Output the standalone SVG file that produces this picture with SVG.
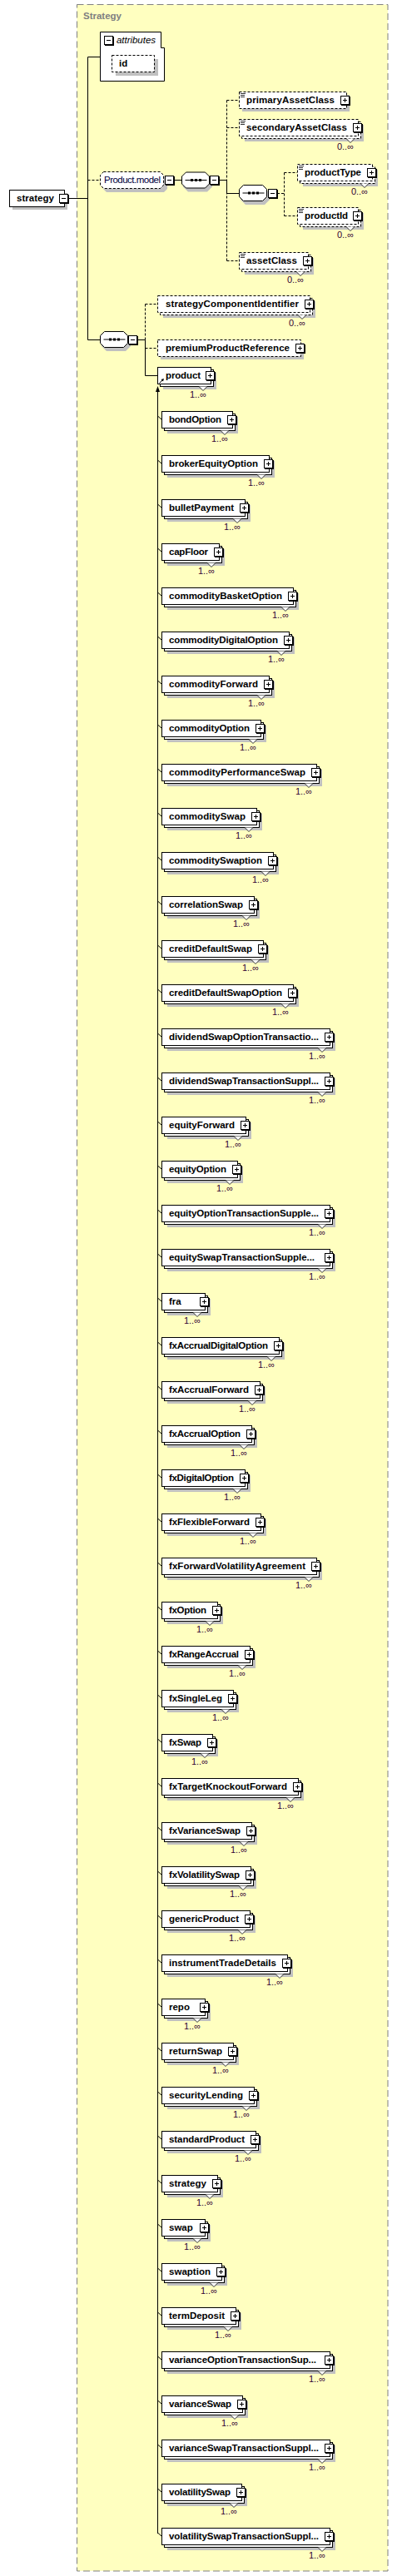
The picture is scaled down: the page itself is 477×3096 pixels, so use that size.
<svg xmlns="http://www.w3.org/2000/svg" xmlns:xlink="http://www.w3.org/1999/xlink" width="477" height="3096" viewBox="0 0 477 3096">
<defs>
<style>
.bx{fill:#fff;stroke:#000;stroke-width:1}
.bd{fill:#fff;stroke:#000;stroke-width:1;stroke-dasharray:3,2}
.sh{fill:#c0c0c0}
.t{font-family:"Liberation Sans",Arial,sans-serif;font-size:11.5px;font-weight:bold;fill:#000}
.m{font-family:"Liberation Sans",Arial,sans-serif;font-size:11px;fill:#330033;text-anchor:end}
.v{fill:#fff;stroke:#000;stroke-width:0.8}
.ln{stroke:#000;stroke-width:1;fill:none}
.dl{stroke:#000;stroke-width:1;fill:none;stroke-dasharray:3,2}
</style>
<g id="plus"><rect x="1" y="1" width="11" height="11" fill="#000"/><rect x="0.5" y="0.5" width="10" height="10" fill="#fff" stroke="#000"/><path d="M3 5.5h5M5.5 3v5" stroke="#000" fill="none"/></g>
<g id="minus"><rect x="1" y="1" width="11" height="11" fill="#000"/><rect x="0.5" y="0.5" width="10" height="10" fill="#fff" stroke="#000"/><path d="M3 5.5h5" stroke="#000" fill="none"/></g>
<g id="eq"><path d="M0 0.5h6M0 2.5h5M0 4.5h5" stroke="#000" stroke-width="0.8" fill="none"/></g>
<g id="seq"><path d="M8 4H31L37 10V18L31 24H8L2 18V10Z" fill="#c0c0c0"/><path d="M5.5 0.5H28.5L33.5 5.5V14.5L28.5 19.5H5.5L0.5 14.5V5.5Z" fill="#fff" stroke="#000"/><path d="M4.5 10H30.5" stroke="#000" fill="none"/><rect x="11" y="8.5" width="3" height="3"/><rect x="16" y="8.5" width="3" height="3"/><rect x="21" y="8.5" width="3" height="3"/></g>
</defs>

<rect x="92.5" y="5.5" width="373.5" height="3084.5" fill="#ffffc0" stroke="#808080" stroke-dasharray="8,4"/>
<text x="100" y="23" style="font-family:'Liberation Sans',Arial,sans-serif;font-size:11.5px;font-weight:bold;fill:#808080">Strategy</text>

<g id="connectors">
<path class="ln" d="M82 238.5H105.5M105.5 68.5V408.5M105.5 68.5H120.5M105.5 408.5H120M209 216.5H218M264 216.5H272.5M272.5 216.5V232.5H287M166 408.5H174.5V451.5H189"/>
<path class="dl" d="M105.5 216.5H120M272.5 120.5V313.5M272.5 120.5H287M272.5 153.5H287M272.5 313.5H287M333 232.5H341.5M341.5 207.5V259.5M341.5 207.5H357M341.5 259.5H357M174.5 365.5V408.5M174.5 365.5H189M174.5 418.5H189"/>
<path class="ln" d="M189.5 469V3045"/>
<path d="M189.5 464L187 471H192Z" fill="#000"/>
<path class="ln" d="M189.5 500l4.5 4M189.5 553l4.5 4M189.5 606l4.5 4M189.5 659l4.5 4M189.5 712l4.5 4M189.5 765l4.5 4M189.5 818l4.5 4M189.5 871l4.5 4M189.5 924l4.5 4M189.5 977l4.5 4M189.5 1030l4.5 4M189.5 1083l4.5 4M189.5 1136l4.5 4M189.5 1189l4.5 4M189.5 1242l4.5 4M189.5 1295l4.5 4M189.5 1348l4.5 4M189.5 1401l4.5 4M189.5 1454l4.5 4M189.5 1507l4.5 4M189.5 1560l4.5 4M189.5 1613l4.5 4M189.5 1666l4.5 4M189.5 1719l4.5 4M189.5 1772l4.5 4M189.5 1825l4.5 4M189.5 1878l4.5 4M189.5 1931l4.5 4M189.5 1984l4.5 4M189.5 2037l4.5 4M189.5 2090l4.5 4M189.5 2143l4.5 4M189.5 2196l4.5 4M189.5 2249l4.5 4M189.5 2302l4.5 4M189.5 2355l4.5 4M189.5 2408l4.5 4M189.5 2461l4.5 4M189.5 2514l4.5 4M189.5 2567l4.5 4M189.5 2620l4.5 4M189.5 2673l4.5 4M189.5 2726l4.5 4M189.5 2779l4.5 4M189.5 2832l4.5 4M189.5 2885l4.5 4M189.5 2938l4.5 4M189.5 2991l4.5 4M189.5 3044l4.5 4"/>
</g>

<g id="n-strategy">
<rect class="sh" x="15" y="232" width="66" height="20"/>
<rect class="bx" x="11.5" y="228.5" width="66" height="20"/>
<text class="t" x="20" y="242" textLength="45">strategy</text>
<use href="#minus" x="71" y="233"/>
</g>

<g id="n-attributes">
<path class="bx" d="M120.5 38.5H193.5V57.5H197.5V97.5H120.5Z"/>
<use href="#minus" x="125" y="43"/>
<text x="140" y="52" textLength="47" style="font-family:'Liberation Sans',Arial,sans-serif;font-size:11.5px;font-style:italic;fill:#000">attributes</text>
</g>
<g id="n-id">
<rect class="sh" x="139" y="71" width="51" height="20"/>
<rect class="bd" x="134.5" y="66.5" width="51" height="20"/>
<text class="t" x="143" y="80">id</text>
</g>

<g id="n-productmodel">
<path d="M128 211H197L201 215V227L197 231H128L124 227V215Z" fill="#c0c0c0"/>
<path d="M124.5 206.5H192.5L196.5 210.5V222.5L192.5 226.5H124.5L120.5 222.5V210.5Z" fill="#fff" stroke="#000" stroke-dasharray="3,2"/>
<text x="125" y="220" textLength="68" style="font-family:'Liberation Sans',Arial,sans-serif;font-size:11.5px;fill:#000040">Product.model</text>
<use href="#minus" x="198" y="211"/>
</g>

<g id="n-seq1"><use href="#seq" x="218" y="206.5"/><use href="#minus" x="252" y="211"/></g>
<g id="n-seq2"><use href="#seq" x="287" y="222"/><use href="#minus" x="322" y="227"/></g>
<g id="n-seq3"><use href="#seq" x="120" y="398"/><use href="#minus" x="154" y="403"/></g>

<g id="n-primaryAssetClass">
<rect class="sh" x="291" y="114" width="129" height="20"/>
<rect class="bd" x="287.5" y="110.5" width="129" height="20"/>
<use href="#eq" x="289" y="112"/>
<text class="t" x="296" y="124" textLength="106">primaryAssetClass</text>
<use href="#plus" x="409" y="115"/>
</g>
<g id="n-secondaryAssetClass" transform="translate(0,143)">
<rect class="sh" x="294" y="7" width="143" height="20"/>
<rect class="bd" x="290.5" y="3.5" width="143" height="20"/>
<rect class="bd" x="287.5" y="0.5" width="143" height="20"/>
<use href="#eq" x="289" y="2"/>
<path class="v" d="M416 23.5l5 5l5-5"/>
<text class="t" x="296" y="14" textLength="121">secondaryAssetClass</text>
<use href="#plus" x="424" y="5"/>
<text class="m" x="425" y="37">0..∞</text>
</g>
<g id="n-productType" transform="translate(0,197)">
<rect class="sh" x="364" y="7" width="90" height="20"/>
<rect class="bd" x="360.5" y="3.5" width="90" height="20"/>
<rect class="bd" x="357.5" y="0.5" width="90" height="20"/>
<use href="#eq" x="359" y="2"/>
<path class="v" d="M433 23.5l5 5l5-5"/>
<text class="t" x="366" y="14" textLength="68">productType</text>
<use href="#plus" x="441" y="5"/>
<text class="m" x="442" y="37">0..∞</text>
</g>
<g id="n-productId" transform="translate(0,249)">
<rect class="sh" x="364" y="7" width="73" height="20"/>
<rect class="bd" x="360.5" y="3.5" width="73" height="20"/>
<rect class="bd" x="357.5" y="0.5" width="73" height="20"/>
<use href="#eq" x="359" y="2"/>
<path class="v" d="M416 23.5l5 5l5-5"/>
<text class="t" x="366" y="14" textLength="52">productId</text>
<use href="#plus" x="424" y="5"/>
<text class="m" x="425" y="37">0..∞</text>
</g>
<g id="n-assetClass" transform="translate(0,303)">
<rect class="sh" x="294" y="7" width="83" height="20"/>
<rect class="bd" x="290.5" y="3.5" width="83" height="20"/>
<rect class="bd" x="287.5" y="0.5" width="83" height="20"/>
<use href="#eq" x="289" y="2"/>
<path class="v" d="M356 23.5l5 5l5-5"/>
<text class="t" x="296" y="14" textLength="61">assetClass</text>
<use href="#plus" x="364" y="5"/>
<text class="m" x="365" y="37">0..∞</text>
</g>
<g id="n-strategyComponentIdentifier" transform="translate(0,355)">
<rect class="sh" x="196" y="7" width="183" height="20"/>
<rect class="bd" x="192.5" y="3.5" width="183" height="20"/>
<rect class="bd" x="189.5" y="0.5" width="183" height="20"/>
<path class="v" d="M358 23.5l5 5l5-5"/>
<text class="t" x="199" y="14" textLength="160">strategyComponentIdentifier</text>
<use href="#plus" x="366" y="5"/>
<text class="m" x="367" y="37">0..∞</text>
</g>
<g id="n-premiumProductReference" transform="translate(0,408)">
<rect class="sh" x="193" y="4" width="172" height="20"/>
<rect class="bd" x="189.5" y="0.5" width="172" height="20"/>
<text class="t" x="199" y="14" textLength="149">premiumProductReference</text>
<use href="#plus" x="355" y="5"/>
</g>
<g id="n-product" transform="translate(0,441)">
<rect class="sh" x="196" y="7" width="64" height="20"/>
<rect class="bx" x="192.5" y="3.5" width="64" height="20"/>
<rect class="bx" x="189.5" y="0.5" width="64" height="20"/>
<path class="v" d="M239 23.5l5 5l5-5"/>
<text class="t" x="199" y="14" textLength="42">product</text>
<use href="#plus" x="247" y="5"/>
<path d="M191.5 19.5L195.5 15.5" stroke="#000" fill="none"/><path d="M197 14L193.5 15L196 17.5Z" fill="#000"/>
<text class="m" x="248" y="37">1..∞</text>
</g>

<g id="n-bondOption" transform="translate(0,494)"><rect class="sh" x="201" y="7" width="85" height="20"/><rect class="bx" x="197.5" y="3.5" width="85" height="20"/><rect class="bx" x="194.5" y="0.5" width="85" height="20"/><path class="v" d="M265 23.5l5 5l5-5"/><text class="t" x="203" y="14" textLength="63">bondOption</text><use href="#plus" x="273" y="5"/><text class="m" x="274" y="37">1..∞</text></g>
<g id="n-brokerEquityOption" transform="translate(0,547)"><rect class="sh" x="201" y="7" width="129" height="20"/><rect class="bx" x="197.5" y="3.5" width="129" height="20"/><rect class="bx" x="194.5" y="0.5" width="129" height="20"/><path class="v" d="M309 23.5l5 5l5-5"/><text class="t" x="203" y="14" textLength="107">brokerEquityOption</text><use href="#plus" x="317" y="5"/><text class="m" x="318" y="37">1..∞</text></g>
<g id="n-bulletPayment" transform="translate(0,600)"><rect class="sh" x="201" y="7" width="100" height="20"/><rect class="bx" x="197.5" y="3.5" width="100" height="20"/><rect class="bx" x="194.5" y="0.5" width="100" height="20"/><path class="v" d="M280 23.5l5 5l5-5"/><text class="t" x="203" y="14" textLength="78">bulletPayment</text><use href="#plus" x="288" y="5"/><text class="m" x="289" y="37">1..∞</text></g>
<g id="n-capFloor" transform="translate(0,653)"><rect class="sh" x="201" y="7" width="69" height="20"/><rect class="bx" x="197.5" y="3.5" width="69" height="20"/><rect class="bx" x="194.5" y="0.5" width="69" height="20"/><path class="v" d="M249 23.5l5 5l5-5"/><text class="t" x="203" y="14" textLength="47">capFloor</text><use href="#plus" x="257" y="5"/><text class="m" x="258" y="37">1..∞</text></g>
<g id="n-commodityBasketOption" transform="translate(0,706)"><rect class="sh" x="201" y="7" width="158" height="20"/><rect class="bx" x="197.5" y="3.5" width="158" height="20"/><rect class="bx" x="194.5" y="0.5" width="158" height="20"/><path class="v" d="M338 23.5l5 5l5-5"/><text class="t" x="203" y="14" textLength="136">commodityBasketOption</text><use href="#plus" x="346" y="5"/><text class="m" x="347" y="37">1..∞</text></g>
<g id="n-commodityDigitalOption" transform="translate(0,759)"><rect class="sh" x="201" y="7" width="153" height="20"/><rect class="bx" x="197.5" y="3.5" width="153" height="20"/><rect class="bx" x="194.5" y="0.5" width="153" height="20"/><path class="v" d="M333 23.5l5 5l5-5"/><text class="t" x="203" y="14" textLength="131">commodityDigitalOption</text><use href="#plus" x="341" y="5"/><text class="m" x="342" y="37">1..∞</text></g>
<g id="n-commodityForward" transform="translate(0,812)"><rect class="sh" x="201" y="7" width="129" height="20"/><rect class="bx" x="197.5" y="3.5" width="129" height="20"/><rect class="bx" x="194.5" y="0.5" width="129" height="20"/><path class="v" d="M309 23.5l5 5l5-5"/><text class="t" x="203" y="14" textLength="107">commodityForward</text><use href="#plus" x="317" y="5"/><text class="m" x="318" y="37">1..∞</text></g>
<g id="n-commodityOption" transform="translate(0,865)"><rect class="sh" x="201" y="7" width="119" height="20"/><rect class="bx" x="197.5" y="3.5" width="119" height="20"/><rect class="bx" x="194.5" y="0.5" width="119" height="20"/><path class="v" d="M299 23.5l5 5l5-5"/><text class="t" x="203" y="14" textLength="97">commodityOption</text><use href="#plus" x="307" y="5"/><text class="m" x="308" y="37">1..∞</text></g>
<g id="n-commodityPerformanceSwap" transform="translate(0,918)"><rect class="sh" x="201" y="7" width="186" height="20"/><rect class="bx" x="197.5" y="3.5" width="186" height="20"/><rect class="bx" x="194.5" y="0.5" width="186" height="20"/><path class="v" d="M366 23.5l5 5l5-5"/><text class="t" x="203" y="14" textLength="164">commodityPerformanceSwap</text><use href="#plus" x="374" y="5"/><text class="m" x="375" y="37">1..∞</text></g>
<g id="n-commoditySwap" transform="translate(0,971)"><rect class="sh" x="201" y="7" width="114" height="20"/><rect class="bx" x="197.5" y="3.5" width="114" height="20"/><rect class="bx" x="194.5" y="0.5" width="114" height="20"/><path class="v" d="M294 23.5l5 5l5-5"/><text class="t" x="203" y="14" textLength="92">commoditySwap</text><use href="#plus" x="302" y="5"/><text class="m" x="303" y="37">1..∞</text></g>
<g id="n-commoditySwaption" transform="translate(0,1024)"><rect class="sh" x="201" y="7" width="134" height="20"/><rect class="bx" x="197.5" y="3.5" width="134" height="20"/><rect class="bx" x="194.5" y="0.5" width="134" height="20"/><path class="v" d="M314 23.5l5 5l5-5"/><text class="t" x="203" y="14" textLength="112">commoditySwaption</text><use href="#plus" x="322" y="5"/><text class="m" x="323" y="37">1..∞</text></g>
<g id="n-correlationSwap" transform="translate(0,1077)"><rect class="sh" x="201" y="7" width="111" height="20"/><rect class="bx" x="197.5" y="3.5" width="111" height="20"/><rect class="bx" x="194.5" y="0.5" width="111" height="20"/><path class="v" d="M291 23.5l5 5l5-5"/><text class="t" x="203" y="14" textLength="89">correlationSwap</text><use href="#plus" x="299" y="5"/><text class="m" x="300" y="37">1..∞</text></g>
<g id="n-creditDefaultSwap" transform="translate(0,1130)"><rect class="sh" x="201" y="7" width="122" height="20"/><rect class="bx" x="197.5" y="3.5" width="122" height="20"/><rect class="bx" x="194.5" y="0.5" width="122" height="20"/><path class="v" d="M302 23.5l5 5l5-5"/><text class="t" x="203" y="14" textLength="100">creditDefaultSwap</text><use href="#plus" x="310" y="5"/><text class="m" x="311" y="37">1..∞</text></g>
<g id="n-creditDefaultSwapOption" transform="translate(0,1183)"><rect class="sh" x="201" y="7" width="158" height="20"/><rect class="bx" x="197.5" y="3.5" width="158" height="20"/><rect class="bx" x="194.5" y="0.5" width="158" height="20"/><path class="v" d="M338 23.5l5 5l5-5"/><text class="t" x="203" y="14" textLength="136">creditDefaultSwapOption</text><use href="#plus" x="346" y="5"/><text class="m" x="347" y="37">1..∞</text></g>
<g id="n-dividendSwapOptionTransactio" transform="translate(0,1236)"><rect class="sh" x="201" y="7" width="202" height="20"/><rect class="bx" x="197.5" y="3.5" width="202" height="20"/><rect class="bx" x="194.5" y="0.5" width="202" height="20"/><path class="v" d="M382 23.5l5 5l5-5"/><text class="t" x="203" y="14" textLength="180">dividendSwapOptionTransactio...</text><use href="#plus" x="390" y="5"/><text class="m" x="391" y="37">1..∞</text></g>
<g id="n-dividendSwapTransactionSuppl" transform="translate(0,1289)"><rect class="sh" x="201" y="7" width="202" height="20"/><rect class="bx" x="197.5" y="3.5" width="202" height="20"/><rect class="bx" x="194.5" y="0.5" width="202" height="20"/><path class="v" d="M382 23.5l5 5l5-5"/><text class="t" x="203" y="14" textLength="180">dividendSwapTransactionSuppl...</text><use href="#plus" x="390" y="5"/><text class="m" x="391" y="37">1..∞</text></g>
<g id="n-equityForward" transform="translate(0,1342)"><rect class="sh" x="201" y="7" width="101" height="20"/><rect class="bx" x="197.5" y="3.5" width="101" height="20"/><rect class="bx" x="194.5" y="0.5" width="101" height="20"/><path class="v" d="M281 23.5l5 5l5-5"/><text class="t" x="203" y="14" textLength="79">equityForward</text><use href="#plus" x="289" y="5"/><text class="m" x="290" y="37">1..∞</text></g>
<g id="n-equityOption" transform="translate(0,1395)"><rect class="sh" x="201" y="7" width="91" height="20"/><rect class="bx" x="197.5" y="3.5" width="91" height="20"/><rect class="bx" x="194.5" y="0.5" width="91" height="20"/><path class="v" d="M271 23.5l5 5l5-5"/><text class="t" x="203" y="14" textLength="69">equityOption</text><use href="#plus" x="279" y="5"/><text class="m" x="280" y="37">1..∞</text></g>
<g id="n-equityOptionTransactionSupple" transform="translate(0,1448)"><rect class="sh" x="201" y="7" width="202" height="20"/><rect class="bx" x="197.5" y="3.5" width="202" height="20"/><rect class="bx" x="194.5" y="0.5" width="202" height="20"/><path class="v" d="M382 23.5l5 5l5-5"/><text class="t" x="203" y="14" textLength="180">equityOptionTransactionSupple...</text><use href="#plus" x="390" y="5"/><text class="m" x="391" y="37">1..∞</text></g>
<g id="n-equitySwapTransactionSupple" transform="translate(0,1501)"><rect class="sh" x="201" y="7" width="202" height="20"/><rect class="bx" x="197.5" y="3.5" width="202" height="20"/><rect class="bx" x="194.5" y="0.5" width="202" height="20"/><path class="v" d="M382 23.5l5 5l5-5"/><text class="t" x="203" y="14" textLength="175">equitySwapTransactionSupple...</text><use href="#plus" x="390" y="5"/><text class="m" x="391" y="37">1..∞</text></g>
<g id="n-fra" transform="translate(0,1554)"><rect class="sh" x="201" y="7" width="52" height="20"/><rect class="bx" x="197.5" y="3.5" width="52" height="20"/><rect class="bx" x="194.5" y="0.5" width="52" height="20"/><path class="v" d="M232 23.5l5 5l5-5"/><text class="t" x="203" y="14">fra</text><use href="#plus" x="240" y="5"/><text class="m" x="241" y="37">1..∞</text></g>
<g id="n-fxAccrualDigitalOption" transform="translate(0,1607)"><rect class="sh" x="201" y="7" width="141" height="20"/><rect class="bx" x="197.5" y="3.5" width="141" height="20"/><rect class="bx" x="194.5" y="0.5" width="141" height="20"/><path class="v" d="M321 23.5l5 5l5-5"/><text class="t" x="203" y="14" textLength="119">fxAccrualDigitalOption</text><use href="#plus" x="329" y="5"/><text class="m" x="330" y="37">1..∞</text></g>
<g id="n-fxAccrualForward" transform="translate(0,1660)"><rect class="sh" x="201" y="7" width="118" height="20"/><rect class="bx" x="197.5" y="3.5" width="118" height="20"/><rect class="bx" x="194.5" y="0.5" width="118" height="20"/><path class="v" d="M298 23.5l5 5l5-5"/><text class="t" x="203" y="14" textLength="96">fxAccrualForward</text><use href="#plus" x="306" y="5"/><text class="m" x="307" y="37">1..∞</text></g>
<g id="n-fxAccrualOption" transform="translate(0,1713)"><rect class="sh" x="201" y="7" width="108" height="20"/><rect class="bx" x="197.5" y="3.5" width="108" height="20"/><rect class="bx" x="194.5" y="0.5" width="108" height="20"/><path class="v" d="M288 23.5l5 5l5-5"/><text class="t" x="203" y="14" textLength="86">fxAccrualOption</text><use href="#plus" x="296" y="5"/><text class="m" x="297" y="37">1..∞</text></g>
<g id="n-fxDigitalOption" transform="translate(0,1766)"><rect class="sh" x="201" y="7" width="100" height="20"/><rect class="bx" x="197.5" y="3.5" width="100" height="20"/><rect class="bx" x="194.5" y="0.5" width="100" height="20"/><path class="v" d="M280 23.5l5 5l5-5"/><text class="t" x="203" y="14" textLength="78">fxDigitalOption</text><use href="#plus" x="288" y="5"/><text class="m" x="289" y="37">1..∞</text></g>
<g id="n-fxFlexibleForward" transform="translate(0,1819)"><rect class="sh" x="201" y="7" width="119" height="20"/><rect class="bx" x="197.5" y="3.5" width="119" height="20"/><rect class="bx" x="194.5" y="0.5" width="119" height="20"/><path class="v" d="M299 23.5l5 5l5-5"/><text class="t" x="203" y="14" textLength="97">fxFlexibleForward</text><use href="#plus" x="307" y="5"/><text class="m" x="308" y="37">1..∞</text></g>
<g id="n-fxForwardVolatilityAgreement" transform="translate(0,1872)"><rect class="sh" x="201" y="7" width="186" height="20"/><rect class="bx" x="197.5" y="3.5" width="186" height="20"/><rect class="bx" x="194.5" y="0.5" width="186" height="20"/><path class="v" d="M366 23.5l5 5l5-5"/><text class="t" x="203" y="14" textLength="164">fxForwardVolatilityAgreement</text><use href="#plus" x="374" y="5"/><text class="m" x="375" y="37">1..∞</text></g>
<g id="n-fxOption" transform="translate(0,1925)"><rect class="sh" x="201" y="7" width="67" height="20"/><rect class="bx" x="197.5" y="3.5" width="67" height="20"/><rect class="bx" x="194.5" y="0.5" width="67" height="20"/><path class="v" d="M247 23.5l5 5l5-5"/><text class="t" x="203" y="14" textLength="45">fxOption</text><use href="#plus" x="255" y="5"/><text class="m" x="256" y="37">1..∞</text></g>
<g id="n-fxRangeAccrual" transform="translate(0,1978)"><rect class="sh" x="201" y="7" width="106" height="20"/><rect class="bx" x="197.5" y="3.5" width="106" height="20"/><rect class="bx" x="194.5" y="0.5" width="106" height="20"/><path class="v" d="M286 23.5l5 5l5-5"/><text class="t" x="203" y="14" textLength="84">fxRangeAccrual</text><use href="#plus" x="294" y="5"/><text class="m" x="295" y="37">1..∞</text></g>
<g id="n-fxSingleLeg" transform="translate(0,2031)"><rect class="sh" x="201" y="7" width="86" height="20"/><rect class="bx" x="197.5" y="3.5" width="86" height="20"/><rect class="bx" x="194.5" y="0.5" width="86" height="20"/><path class="v" d="M266 23.5l5 5l5-5"/><text class="t" x="203" y="14" textLength="64">fxSingleLeg</text><use href="#plus" x="274" y="5"/><text class="m" x="275" y="37">1..∞</text></g>
<g id="n-fxSwap" transform="translate(0,2084)"><rect class="sh" x="201" y="7" width="61" height="20"/><rect class="bx" x="197.5" y="3.5" width="61" height="20"/><rect class="bx" x="194.5" y="0.5" width="61" height="20"/><path class="v" d="M241 23.5l5 5l5-5"/><text class="t" x="203" y="14" textLength="39">fxSwap</text><use href="#plus" x="249" y="5"/><text class="m" x="250" y="37">1..∞</text></g>
<g id="n-fxTargetKnockoutForward" transform="translate(0,2137)"><rect class="sh" x="201" y="7" width="164" height="20"/><rect class="bx" x="197.5" y="3.5" width="164" height="20"/><rect class="bx" x="194.5" y="0.5" width="164" height="20"/><path class="v" d="M344 23.5l5 5l5-5"/><text class="t" x="203" y="14" textLength="142">fxTargetKnockoutForward</text><use href="#plus" x="352" y="5"/><text class="m" x="353" y="37">1..∞</text></g>
<g id="n-fxVarianceSwap" transform="translate(0,2190)"><rect class="sh" x="201" y="7" width="108" height="20"/><rect class="bx" x="197.5" y="3.5" width="108" height="20"/><rect class="bx" x="194.5" y="0.5" width="108" height="20"/><path class="v" d="M288 23.5l5 5l5-5"/><text class="t" x="203" y="14" textLength="86">fxVarianceSwap</text><use href="#plus" x="296" y="5"/><text class="m" x="297" y="37">1..∞</text></g>
<g id="n-fxVolatilitySwap" transform="translate(0,2243)"><rect class="sh" x="201" y="7" width="107" height="20"/><rect class="bx" x="197.5" y="3.5" width="107" height="20"/><rect class="bx" x="194.5" y="0.5" width="107" height="20"/><path class="v" d="M287 23.5l5 5l5-5"/><text class="t" x="203" y="14" textLength="85">fxVolatilitySwap</text><use href="#plus" x="295" y="5"/><text class="m" x="296" y="37">1..∞</text></g>
<g id="n-genericProduct" transform="translate(0,2296)"><rect class="sh" x="201" y="7" width="106" height="20"/><rect class="bx" x="197.5" y="3.5" width="106" height="20"/><rect class="bx" x="194.5" y="0.5" width="106" height="20"/><path class="v" d="M286 23.5l5 5l5-5"/><text class="t" x="203" y="14" textLength="84">genericProduct</text><use href="#plus" x="294" y="5"/><text class="m" x="295" y="37">1..∞</text></g>
<g id="n-instrumentTradeDetails" transform="translate(0,2349)"><rect class="sh" x="201" y="7" width="151" height="20"/><rect class="bx" x="197.5" y="3.5" width="151" height="20"/><rect class="bx" x="194.5" y="0.5" width="151" height="20"/><path class="v" d="M331 23.5l5 5l5-5"/><text class="t" x="203" y="14" textLength="129">instrumentTradeDetails</text><use href="#plus" x="339" y="5"/><text class="m" x="340" y="37">1..∞</text></g>
<g id="n-repo" transform="translate(0,2402)"><rect class="sh" x="201" y="7" width="52" height="20"/><rect class="bx" x="197.5" y="3.5" width="52" height="20"/><rect class="bx" x="194.5" y="0.5" width="52" height="20"/><path class="v" d="M232 23.5l5 5l5-5"/><text class="t" x="203" y="14">repo</text><use href="#plus" x="240" y="5"/><text class="m" x="241" y="37">1..∞</text></g>
<g id="n-returnSwap" transform="translate(0,2455)"><rect class="sh" x="201" y="7" width="86" height="20"/><rect class="bx" x="197.5" y="3.5" width="86" height="20"/><rect class="bx" x="194.5" y="0.5" width="86" height="20"/><path class="v" d="M266 23.5l5 5l5-5"/><text class="t" x="203" y="14" textLength="64">returnSwap</text><use href="#plus" x="274" y="5"/><text class="m" x="275" y="37">1..∞</text></g>
<g id="n-securityLending" transform="translate(0,2508)"><rect class="sh" x="201" y="7" width="111" height="20"/><rect class="bx" x="197.5" y="3.5" width="111" height="20"/><rect class="bx" x="194.5" y="0.5" width="111" height="20"/><path class="v" d="M291 23.5l5 5l5-5"/><text class="t" x="203" y="14" textLength="89">securityLending</text><use href="#plus" x="299" y="5"/><text class="m" x="300" y="37">1..∞</text></g>
<g id="n-standardProduct" transform="translate(0,2561)"><rect class="sh" x="201" y="7" width="113" height="20"/><rect class="bx" x="197.5" y="3.5" width="113" height="20"/><rect class="bx" x="194.5" y="0.5" width="113" height="20"/><path class="v" d="M293 23.5l5 5l5-5"/><text class="t" x="203" y="14" textLength="91">standardProduct</text><use href="#plus" x="301" y="5"/><text class="m" x="302" y="37">1..∞</text></g>
<g id="n-strategy2" transform="translate(0,2614)"><rect class="sh" x="201" y="7" width="67" height="20"/><rect class="bx" x="197.5" y="3.5" width="67" height="20"/><rect class="bx" x="194.5" y="0.5" width="67" height="20"/><path class="v" d="M247 23.5l5 5l5-5"/><text class="t" x="203" y="14" textLength="45">strategy</text><use href="#plus" x="255" y="5"/><text class="m" x="256" y="37">1..∞</text></g>
<g id="n-swap" transform="translate(0,2667)"><rect class="sh" x="201" y="7" width="52" height="20"/><rect class="bx" x="197.5" y="3.5" width="52" height="20"/><rect class="bx" x="194.5" y="0.5" width="52" height="20"/><path class="v" d="M232 23.5l5 5l5-5"/><text class="t" x="203" y="14">swap</text><use href="#plus" x="240" y="5"/><text class="m" x="241" y="37">1..∞</text></g>
<g id="n-swaption" transform="translate(0,2720)"><rect class="sh" x="201" y="7" width="72" height="20"/><rect class="bx" x="197.5" y="3.5" width="72" height="20"/><rect class="bx" x="194.5" y="0.5" width="72" height="20"/><path class="v" d="M252 23.5l5 5l5-5"/><text class="t" x="203" y="14" textLength="50">swaption</text><use href="#plus" x="260" y="5"/><text class="m" x="261" y="37">1..∞</text></g>
<g id="n-termDeposit" transform="translate(0,2773)"><rect class="sh" x="201" y="7" width="89" height="20"/><rect class="bx" x="197.5" y="3.5" width="89" height="20"/><rect class="bx" x="194.5" y="0.5" width="89" height="20"/><path class="v" d="M269 23.5l5 5l5-5"/><text class="t" x="203" y="14" textLength="67">termDeposit</text><use href="#plus" x="277" y="5"/><text class="m" x="278" y="37">1..∞</text></g>
<g id="n-varianceOptionTransactionSup" transform="translate(0,2826)"><rect class="sh" x="201" y="7" width="202" height="20"/><rect class="bx" x="197.5" y="3.5" width="202" height="20"/><rect class="bx" x="194.5" y="0.5" width="202" height="20"/><path class="v" d="M382 23.5l5 5l5-5"/><text class="t" x="203" y="14" textLength="177">varianceOptionTransactionSup...</text><use href="#plus" x="390" y="5"/><text class="m" x="391" y="37">1..∞</text></g>
<g id="n-varianceSwap" transform="translate(0,2879)"><rect class="sh" x="201" y="7" width="97" height="20"/><rect class="bx" x="197.5" y="3.5" width="97" height="20"/><rect class="bx" x="194.5" y="0.5" width="97" height="20"/><path class="v" d="M277 23.5l5 5l5-5"/><text class="t" x="203" y="14" textLength="75">varianceSwap</text><use href="#plus" x="285" y="5"/><text class="m" x="286" y="37">1..∞</text></g>
<g id="n-varianceSwapTransactionSuppl" transform="translate(0,2932)"><rect class="sh" x="201" y="7" width="202" height="20"/><rect class="bx" x="197.5" y="3.5" width="202" height="20"/><rect class="bx" x="194.5" y="0.5" width="202" height="20"/><path class="v" d="M382 23.5l5 5l5-5"/><text class="t" x="203" y="14" textLength="180">varianceSwapTransactionSuppl...</text><use href="#plus" x="390" y="5"/><text class="m" x="391" y="37">1..∞</text></g>
<g id="n-volatilitySwap" transform="translate(0,2985)"><rect class="sh" x="201" y="7" width="96" height="20"/><rect class="bx" x="197.5" y="3.5" width="96" height="20"/><rect class="bx" x="194.5" y="0.5" width="96" height="20"/><path class="v" d="M276 23.5l5 5l5-5"/><text class="t" x="203" y="14" textLength="74">volatilitySwap</text><use href="#plus" x="284" y="5"/><text class="m" x="285" y="37">1..∞</text></g>
<g id="n-volatilitySwapTransactionSuppl" transform="translate(0,3038)"><rect class="sh" x="201" y="7" width="202" height="20"/><rect class="bx" x="197.5" y="3.5" width="202" height="20"/><rect class="bx" x="194.5" y="0.5" width="202" height="20"/><path class="v" d="M382 23.5l5 5l5-5"/><text class="t" x="203" y="14" textLength="180">volatilitySwapTransactionSuppl...</text><use href="#plus" x="390" y="5"/><text class="m" x="391" y="37">1..∞</text></g>
</svg>
